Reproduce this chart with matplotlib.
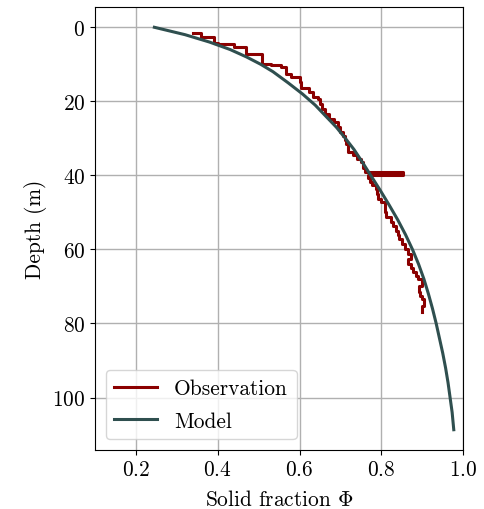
import matplotlib
matplotlib.use("Agg")
import matplotlib.pyplot as plt

plt.rcParams['font.family'] = 'serif'
plt.rcParams['font.serif'] = ['cmr10']
plt.rcParams['mathtext.fontset'] = 'cm'
plt.rcParams['axes.formatter.use_mathtext'] = True
plt.rcParams['font.size'] = 15.4

# observation: depth (m) and solid fraction
obs_depth = [1.5, 2.5, 4.2, 4.6, 5.3, 7.1, 7.3, 10.0, 10.3, 10.8, 12.5, 13.3,
             14.7, 16.5, 17.4, 18.8, 19.5, 20.6, 22.0, 23.5, 24.7, 25.6, 26.9,
             28.3, 29.5, 30.5, 31.5, 33.7, 34.6, 35.5, 36.5, 38.0, 39.0, 39.8,
             40.8, 41.8, 42.7, 43.6, 45.0, 46.3, 47.2, 49.1, 50.0, 51.3, 52.6,
             53.8, 54.9, 56.0, 57.2, 58.6, 59.9, 61.2, 62.6, 64.0, 65.0, 66.2,
             67.2, 68.0, 69.8, 71.6, 72.5, 73.4, 75.2, 77.0]
obs_phi = [0.339, 0.359, 0.392, 0.400, 0.440, 0.469, 0.490, 0.508, 0.530, 0.555,
           0.567, 0.579, 0.600, 0.604, 0.624, 0.632, 0.645, 0.651, 0.655, 0.661,
           0.673, 0.685, 0.693, 0.700, 0.706, 0.710, 0.714, 0.718, 0.730, 0.740,
           0.751, 0.755, 0.760, 0.853, 0.767, 0.771, 0.777, 0.787, 0.789, 0.791,
           0.800, 0.808, 0.810, 0.812, 0.824, 0.829, 0.836, 0.840, 0.844, 0.851,
           0.858, 0.865, 0.872, 0.866, 0.872, 0.878, 0.884, 0.890, 0.899, 0.891,
           0.895, 0.899, 0.903, 0.899]

# model curve
model_depth = [0, 2, 4, 6, 8, 10, 12, 15, 18, 21, 24, 27, 30, 33, 36, 40, 44,
               48, 52, 56, 60, 64, 68, 72, 76, 80, 84, 88, 92, 96, 100, 104,
               108.7]
model_phi = [0.245, 0.320, 0.380, 0.430, 0.470, 0.505, 0.535, 0.572, 0.607,
             0.638, 0.664, 0.690, 0.712, 0.733, 0.751, 0.774, 0.797, 0.819,
             0.840, 0.859, 0.876, 0.891, 0.904, 0.915, 0.925, 0.934, 0.942,
             0.950, 0.957, 0.963, 0.968, 0.973, 0.977]

fig = plt.figure(figsize=(4.85, 5.1), dpi=100)
ax = fig.add_axes([0.196, 0.116, 0.759, 0.868])
ax.plot(obs_phi, obs_depth, color='darkred', lw=2.2, drawstyle='steps-post',
        label='Observation')
ax.plot(model_phi, model_depth, color='darkslategray', lw=2.2, label='Model')
ax.set_xlim(0.1, 1.0)
ax.invert_yaxis()
ax.set_xticks([0.2, 0.4, 0.6, 0.8, 1.0])
ax.set_yticks([0, 20, 40, 60, 80, 100])
ax.grid(True, color='#b0b0b0', lw=1.0)
ax.set_axisbelow(True)
ax.set_xlabel(r'Solid fraction $\Phi$', labelpad=7)
ax.set_ylabel('Depth (m)')
ax.legend(loc='lower left', labelspacing=0.6)
fig.savefig("out.png", dpi=100)
